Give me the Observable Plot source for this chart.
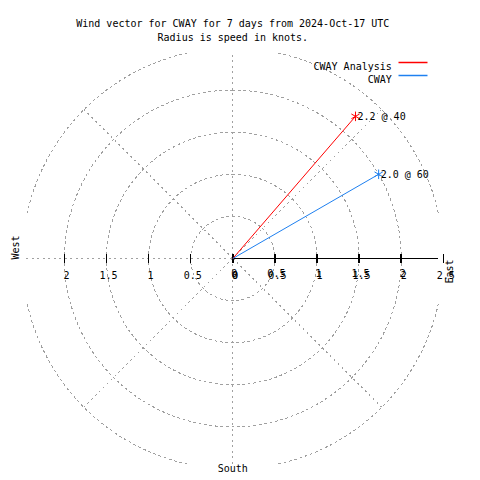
<!DOCTYPE html>
<html>
<head>
<meta charset="utf-8">
<script src="https://cdn.jsdelivr.net/npm/d3@7"></script>
<script src="https://cdn.jsdelivr.net/npm/@observablehq/plot@0.6"></script>
<style>
  html, body { margin: 0; padding: 0; background: #fff; }
</style>
</head>
<body>
<div id="chart"></div>
<script>
const titleLines = ["Wind vector for CWAY for 7 days from 2024-Oct-17 UTC", "Radius is speed in knots."];
const seriesNames = ["CWAY Analysis", "CWAY"];
const speeds = [2.23, 2.0];         // knots
const directions = [40.8, 60];      // degrees clockwise from north
const pointLabels = ["2.2 @ 40", "2.0 @ 60"];
const seriesColors = ["#ff0000", "#1e80f0"];
const rings = [0.5, 1, 1.5, 2, 2.5];
const spokes = [45, 135, 225, 315];
const rightTicks = [0, 0.5, 1, 1.5, 2, 2.5];
const rightTicksUpper = [0, 0.5, 1, 1.5, 2];
const leftTicks = [2, 1.5, 1, 0.5, 0];
const compassLabels = ["West", "East", "South"];

const rMax = 2.5;
const clip = 2.445;
const rad = Math.PI / 180;
const gray = "#a0a0a0";
const dash = "2,3.5";

// circle geometry (clipped to the square plot box)
const circlePts = [];
for (const r of rings) {
  for (let a = 0; a <= 360; a += 0.5) {
    let x = r * Math.sin(a * rad), y = r * Math.cos(a * rad);
    if (Math.abs(x) > clip || Math.abs(y) > clip) { x = NaN; y = NaN; }
    circlePts.push({r, x, y});
  }
}

const vectors = seriesNames.map((name, i) => ({
  name, s: speeds[i], dir: directions[i], color: seriesColors[i], label: pointLabels[i],
  x: speeds[i] * Math.sin(directions[i] * rad),
  y: speeds[i] * Math.cos(directions[i] * rad)
}));

const vTick = {draw(ctx) { ctx.moveTo(0, -4.5); ctx.lineTo(0, 4); }};
const hLine = {draw(ctx) { ctx.moveTo(-14.5, 0); ctx.lineTo(14.5, 0); }};
const grid = {stroke: gray, strokeWidth: 1, strokeDasharray: dash, shapeRendering: "crispEdges"};

const chart = Plot.plot({
  width: 480,
  height: 480,
  marginLeft: 21.8,
  marginRight: 37.2,
  marginTop: 47.5,
  marginBottom: 11.5,
  x: {domain: [-rMax, rMax], axis: null},
  y: {domain: [-rMax, rMax], axis: null},
  color: {type: "identity"},
  style: {fontFamily: "'DejaVu Sans Mono', monospace", fontSize: "10px", background: "#fff", color: "#000"},
  marks: [
    // grid circles
    Plot.line(circlePts, {x: "x", y: "y", z: "r", ...grid}),
    // diagonal spokes
    Plot.link(spokes, {x1: 0, y1: 0, x2: d => rMax * Math.sin(d * rad), y2: d => rMax * Math.cos(d * rad), ...grid}),
    // vertical dashed axis
    Plot.ruleX([0], {y1: -clip, y2: clip, ...grid}),
    // west dashed axis
    Plot.ruleY([0], {x1: -clip, x2: 0, ...grid}),
    // east solid axis
    Plot.ruleY([0], {x1: 0, x2: clip, stroke: "#000", shapeRendering: "crispEdges"}),
    // ticks
    Plot.dot(leftTicks, {x: d => -d, y: 0, symbol: vTick, stroke: "#000", r: 4, shapeRendering: "crispEdges"}),
    Plot.dot(rightTicks, {x: d => d, y: 0, symbol: vTick, stroke: "#000", r: 4, shapeRendering: "crispEdges"}),
    // tick labels
    Plot.text(leftTicks, {x: d => -d, y: 0, text: d => String(d), dx: 2, dy: 17, fill: "#000"}),
    Plot.text(rightTicksUpper, {x: d => d, y: 0, text: d => String(d), dx: 1.5, dy: 15.5, fill: "#000"}),
    Plot.text(rightTicks, {x: d => d, y: 0, text: d => String(d), dx: 2.5, dy: 17.5, fill: "#000"}),
    // compass labels
    Plot.text([compassLabels[0]], {frameAnchor: "left", dx: -7, dy: 1, rotate: -90, fill: "#000"}),
    Plot.text([compassLabels[1]], {frameAnchor: "right", dx: 6, dy: 1, rotate: -90, fill: "#000"}),
    Plot.text([compassLabels[2]], {frameAnchor: "bottom", dy: 2.5, fill: "#000"}),
    // vectors
    Plot.link(vectors, {x1: 0, y1: 0, x2: "x", y2: "y", stroke: "color", strokeWidth: 1}),
    Plot.dot(vectors, {x: "x", y: "y", symbol: "asterisk", r: 4.5, stroke: "color", strokeWidth: 1}),
    Plot.text(vectors, {x: "x", y: "y", text: "label", textAnchor: "start", dx: 2, fill: "#000"}),
    // legend
    ...seriesNames.map((name, i) => Plot.text([name], {frameAnchor: "top-right", textAnchor: "end", dx: -51.5, dy: 14.5 + 13 * i, fill: "#000"})),
    ...seriesNames.map((name, i) => Plot.dot([name], {frameAnchor: "top-right", dx: -30.3, dy: 14.5 + 13 * i, symbol: hLine, stroke: seriesColors[i], r: 4})),
    // title
    ...titleLines.map((t, i) => Plot.text([t], {frameAnchor: "top", dy: -28 + 13.5 * i, fill: "#000"}))
  ]
});
document.getElementById("chart").append(chart);
</script>
</body>
</html>
